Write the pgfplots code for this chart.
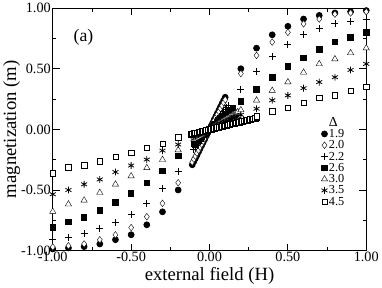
\documentclass[border=0pt]{standalone}
\usepackage{fontspec}
\setmainfont{Liberation Serif}
\usepackage{pgfplots}
\pgfplotsset{compat=1.18}
\begin{document}
\begin{tikzpicture}
\begin{axis}[
  width=318bp, height=246bp, scale only axis,
  xmin=-1, xmax=1, ymin=-1, ymax=1,
  xtick={-1,-0.5,0,0.5,1}, ytick={-1,-0.5,0,0.5,1},
  minor tick num=1,
  tick align=inside,
  major tick length=7bp, minor tick length=3.5bp,
  axis line style={line width=0.9pt},
  every tick/.style={black, line width=0.9pt},
  ticklabel style={font=\fontsize{14.5}{14.5}\selectfont},
  /pgf/number format/assume math mode=true,
  xticklabel={\pgfmathprintnumber[fixed,fixed zerofill,precision=2]{\tick}},
  yticklabel={\pgfmathprintnumber[fixed,fixed zerofill,precision=2]{\tick}},
  xticklabel style={yshift=2pt},
  yticklabel style={xshift=1.5pt},
  label style={font=\fontsize{19}{19}\selectfont},
  xlabel={external field (H)},
  ylabel={magnetization (m)},
  xlabel style={yshift=1pt},
  ylabel style={yshift=-6pt},
  only marks,
  mark options={solid, line width=0.8pt},
  legend cell align=left,
  legend style={at={(0.83,0.56)}, anchor=north west, draw=none, fill=none,
    font=\fontsize{12.5}{12.5}\selectfont, row sep=0pt,
    nodes={inner sep=1pt, text height=8.3pt, text depth=1.2pt}},
]
\addlegendimage{empty legend}
\addlegendentry{\fontsize{14}{14}\selectfont Δ}
% Delta = 1.9
\addplot[black, mark=*, mark size=3pt] coordinates {
(-1.0,-0.986)(-0.9,-0.978)(-0.8,-0.967)(-0.7,-0.945)(-0.6,-0.91)(-0.5,-0.869)(-0.4,-0.787)(-0.3,-0.68)(-0.2,-0.50)
(-0.11,-0.292)(-0.10,-0.265)(-0.09,-0.239)(-0.08,-0.212)(-0.07,-0.186)(-0.06,-0.159)(-0.05,-0.133)(-0.04,-0.106)(-0.03,-0.080)(-0.02,-0.053)(-0.01,-0.027)
(0,0)(0.01,0.027)(0.02,0.053)(0.03,0.080)(0.04,0.106)(0.05,0.133)(0.06,0.159)(0.07,0.186)(0.08,0.212)(0.09,0.239)(0.10,0.265)
(0.2,0.50)(0.3,0.67)(0.4,0.78)(0.5,0.85)(0.6,0.91)(0.7,0.94)(0.8,0.96)(0.9,0.97)(1.0,0.98)
};
\addlegendentry{1.9}
% Delta = 2.0
\addplot[black, mark=diamond*, mark size=3.4pt, mark options={fill=white}] coordinates {
(-1.0,-0.97)(-0.9,-0.96)(-0.8,-0.945)(-0.7,-0.91)(-0.6,-0.87)(-0.5,-0.81)(-0.4,-0.72)(-0.3,-0.61)(-0.2,-0.44)
(-0.11,-0.270)(-0.10,-0.245)(-0.09,-0.221)(-0.08,-0.196)(-0.07,-0.172)(-0.06,-0.147)(-0.05,-0.123)(-0.04,-0.098)(-0.03,-0.074)(-0.02,-0.049)(-0.01,-0.025)
(0,0)(0.01,0.025)(0.02,0.049)(0.03,0.074)(0.04,0.098)(0.05,0.123)(0.06,0.147)(0.07,0.172)(0.08,0.196)(0.09,0.221)(0.10,0.245)
(0.2,0.46)(0.3,0.61)(0.4,0.72)(0.5,0.80)(0.6,0.87)(0.7,0.91)(0.8,0.95)(0.9,0.96)(1.0,0.97)
};
\addlegendentry{2.0}
% Delta = 2.2
\addplot[black, mark=+, mark size=3.5pt] coordinates {
(-1.0,-0.91)(-0.9,-0.89)(-0.8,-0.86)(-0.7,-0.82)(-0.6,-0.77)(-0.5,-0.70)(-0.4,-0.61)(-0.3,-0.49)(-0.2,-0.35)
(-0.10,-0.165)(-0.09,-0.149)(-0.08,-0.132)(-0.07,-0.116)(-0.06,-0.099)(-0.05,-0.083)(-0.04,-0.066)(-0.03,-0.050)(-0.02,-0.033)(-0.01,-0.017)
(0,0)(0.01,0.017)(0.02,0.033)(0.03,0.050)(0.04,0.066)(0.05,0.083)(0.06,0.099)(0.07,0.116)(0.08,0.132)(0.09,0.149)(0.10,0.165)(0.11,0.182)(0.12,0.198)
(0.2,0.33)(0.3,0.48)(0.4,0.60)(0.5,0.70)(0.6,0.78)(0.7,0.83)(0.8,0.87)(0.9,0.89)(1.0,0.91)
};
\addlegendentry{2.2}
% Delta = 2.6
\addplot[black, mark=square*, mark size=2.8pt] coordinates {
(-1.0,-0.81)(-0.9,-0.762)(-0.8,-0.727)(-0.7,-0.667)(-0.6,-0.604)(-0.5,-0.527)(-0.4,-0.44)(-0.3,-0.344)(-0.2,-0.22)
(-0.10,-0.115)(-0.09,-0.104)(-0.08,-0.092)(-0.07,-0.081)(-0.06,-0.069)(-0.05,-0.058)(-0.04,-0.046)(-0.03,-0.035)(-0.02,-0.023)(-0.01,-0.012)
(0,0)(0.01,0.012)(0.02,0.023)(0.03,0.035)(0.04,0.046)(0.05,0.058)(0.06,0.069)(0.07,0.081)(0.08,0.092)(0.09,0.104)(0.10,0.115)(0.11,0.127)(0.12,0.138)(0.13,0.150)(0.14,0.161)(0.15,0.173)
(0.2,0.23)(0.3,0.33)(0.4,0.43)(0.5,0.52)(0.6,0.59)(0.7,0.66)(0.8,0.72)(0.9,0.76)(1.0,0.80)
};
\addlegendentry{2.6}
% Delta = 3.0
\addplot[black, mark=triangle*, mark size=3.7pt, mark options={fill=white}] coordinates {
(-1.0,-0.678)(-0.9,-0.617)(-0.8,-0.585)(-0.7,-0.522)(-0.6,-0.453)(-0.5,-0.385)(-0.4,-0.317)(-0.3,-0.25)(-0.2,-0.17)
(-0.10,-0.080)(-0.09,-0.072)(-0.08,-0.064)(-0.07,-0.056)(-0.06,-0.048)(-0.05,-0.040)(-0.04,-0.032)(-0.03,-0.024)(-0.02,-0.016)(-0.01,-0.008)
(0,0)(0.01,0.008)(0.02,0.016)(0.03,0.024)(0.04,0.032)(0.05,0.040)(0.06,0.048)(0.07,0.056)(0.08,0.064)(0.09,0.072)(0.10,0.080)(0.11,0.088)(0.12,0.096)(0.13,0.104)(0.14,0.112)(0.15,0.120)(0.16,0.128)(0.17,0.136)(0.18,0.144)
(0.2,0.16)(0.3,0.24)(0.4,0.32)(0.5,0.39)(0.6,0.47)(0.7,0.54)(0.8,0.58)(0.9,0.63)(1.0,0.67)
};
\addlegendentry{3.0}
% Delta = 3.5
\addplot[black, mark=asterisk, mark size=3.5pt] coordinates {
(-1.0,-0.535)(-0.9,-0.50)(-0.8,-0.453)(-0.7,-0.413)(-0.6,-0.352)(-0.5,-0.298)(-0.4,-0.249)(-0.3,-0.175)(-0.2,-0.125)
(-0.10,-0.060)(-0.09,-0.054)(-0.08,-0.048)(-0.07,-0.042)(-0.06,-0.036)(-0.05,-0.030)(-0.04,-0.024)(-0.03,-0.018)(-0.02,-0.012)(-0.01,-0.006)
(0,0)(0.01,0.006)(0.02,0.012)(0.03,0.018)(0.04,0.024)(0.05,0.030)(0.06,0.036)(0.07,0.042)(0.08,0.048)(0.09,0.054)(0.10,0.060)(0.11,0.066)(0.12,0.072)(0.13,0.078)(0.14,0.084)(0.15,0.090)(0.16,0.096)(0.17,0.102)(0.18,0.108)
(0.2,0.12)(0.3,0.17)(0.4,0.24)(0.5,0.28)(0.6,0.34)(0.7,0.39)(0.8,0.43)(0.9,0.49)(1.0,0.54)
};
\addlegendentry{3.5}
% Delta = 4.5
\addplot[black, mark=square*, mark size=2.8pt, mark options={fill=white}] coordinates {
(-1.0,-0.363)(-0.9,-0.31)(-0.8,-0.295)(-0.7,-0.262)(-0.6,-0.227)(-0.5,-0.194)(-0.4,-0.153)(-0.3,-0.12)(-0.2,-0.063)
(-0.12,-0.038)(-0.11,-0.035)(-0.10,-0.032)(-0.09,-0.029)(-0.08,-0.026)(-0.07,-0.022)(-0.06,-0.019)(-0.05,-0.016)(-0.04,-0.013)(-0.03,-0.010)(-0.02,-0.006)(-0.01,-0.003)
(0,0)(0.01,0.003)(0.02,0.006)(0.03,0.010)(0.04,0.013)(0.05,0.016)(0.06,0.019)(0.07,0.022)(0.08,0.026)(0.09,0.029)(0.10,0.032)(0.11,0.035)(0.12,0.038)(0.13,0.042)(0.14,0.045)(0.15,0.048)(0.16,0.051)(0.17,0.054)(0.18,0.058)(0.19,0.061)(0.20,0.064)
(0.21,0.067)(0.22,0.070)(0.23,0.074)(0.24,0.077)(0.25,0.080)(0.26,0.083)(0.27,0.086)(0.28,0.090)(0.29,0.093)(0.30,0.096)
(0.3,0.107)(0.4,0.15)(0.5,0.18)(0.6,0.22)(0.7,0.26)(0.8,0.28)(0.9,0.32)(1.0,0.35)
};
\addlegendentry{4.5}
\node[font=\fontsize{18}{18}\selectfont] at (rel axis cs:0.098,0.878) {(a)};
\end{axis}
\end{tikzpicture}
\end{document}
